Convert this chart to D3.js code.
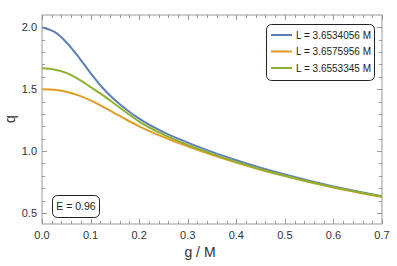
<!DOCTYPE html>
<html>
<head>
<meta charset="utf-8">
<script src="https://cdn.jsdelivr.net/npm/d3@7"></script>
<style>
body { margin: 0; background: #fff; }
svg { font-family: "Liberation Sans", Arial, sans-serif; }
</style>
</head>
<body>
<svg class="chart" width="397" height="266"></svg>
<script>
// data
var gValues = [0, 0.025, 0.05, 0.075, 0.1, 0.125, 0.15, 0.175, 0.2, 0.25, 0.3, 0.35, 0.4, 0.45, 0.5, 0.55, 0.6, 0.65, 0.7];
var qBlue   = [2.0, 1.965, 1.88, 1.762, 1.63, 1.51, 1.412, 1.332, 1.262, 1.153, 1.068, 0.993, 0.926, 0.865, 0.81, 0.76, 0.714, 0.673, 0.635];
var qOrange = [1.5, 1.496, 1.48, 1.45, 1.41, 1.36, 1.305, 1.251, 1.2, 1.113, 1.038, 0.969, 0.906, 0.849, 0.797, 0.749, 0.705, 0.665, 0.628];
var qGreen  = [1.67, 1.66, 1.632, 1.582, 1.518, 1.452, 1.38, 1.308, 1.238, 1.133, 1.05, 0.977, 0.912, 0.853, 0.8, 0.752, 0.708, 0.668, 0.632];

var seriesNames = ["L = 3.6534056 M", "L = 3.6575956 M", "L = 3.6553345 M"];
var seriesColors = ["#5E81B5", "#E19C24", "#8FB032"];
var seriesValues = [qBlue, qOrange, qGreen];

var xTicks = [0, 0.1, 0.2, 0.3, 0.4, 0.5, 0.6, 0.7];
var yTicks = [0.5, 1.0, 1.5, 2.0];

var svg = d3.select(".chart");
var plotLeft = 42, plotRight = 382, plotTop = 15, plotBottom = 224;

var x = d3.scaleLinear().domain([0, 0.7]).range([plotLeft, plotRight]);
var y = d3.scaleLinear().domain([0.41, 2.1]).range([plotBottom, plotTop]);

var frameColor = "#999";
var labelColor = "#333";

// frame
svg.append("rect")
    .attr("x", plotLeft).attr("y", plotTop)
    .attr("width", plotRight - plotLeft).attr("height", plotBottom - plotTop)
    .attr("fill", "none").attr("stroke", frameColor).attr("stroke-width", 1);

// ticks on all sides, inward
var xMinor = d3.range(0, 0.7001, 0.02);
var yMinor = d3.range(0.5, 2.1, 0.1);

function isMajor(v, step) { return Math.abs(v / step - Math.round(v / step)) < 1e-6; }

var tickG = svg.append("g").attr("stroke", frameColor).attr("stroke-width", 1);
xMinor.forEach(function(v) {
    var len = isMajor(v, 0.1) ? 5 : 3;
    var px = Math.round(x(v)) + 0.5;
    tickG.append("line").attr("x1", px).attr("x2", px).attr("y1", plotBottom).attr("y2", plotBottom - len);
    tickG.append("line").attr("x1", px).attr("x2", px).attr("y1", plotTop).attr("y2", plotTop + len);
});
yMinor.forEach(function(v) {
    var len = isMajor(v, 0.5) ? 5 : 3;
    var py = Math.round(y(v)) + 0.5;
    tickG.append("line").attr("x1", plotLeft).attr("x2", plotLeft + len).attr("y1", py).attr("y2", py);
    tickG.append("line").attr("x1", plotRight).attr("x2", plotRight - len).attr("y1", py).attr("y2", py);
});

// tick labels
svg.append("g").selectAll("text")
    .data(xTicks).enter().append("text")
    .attr("x", function(d) { return x(d); })
    .attr("y", 239)
    .attr("text-anchor", "middle")
    .attr("font-size", 11)
    .attr("fill", labelColor)
    .text(function(d) { return d3.format(".1f")(d); });

svg.append("g").selectAll("text")
    .data(yTicks).enter().append("text")
    .attr("x", 37)
    .attr("y", function(d) { return y(d) + 4; })
    .attr("text-anchor", "end")
    .attr("font-size", 11)
    .attr("fill", labelColor)
    .text(function(d) { return d3.format(".1f")(d); });

// axis titles
svg.append("text")
    .attr("x", 200).attr("y", 257)
    .attr("text-anchor", "middle")
    .attr("font-size", 14)
    .attr("fill", labelColor)
    .text("g / M");

svg.append("text")
    .attr("transform", "translate(15,119) rotate(-90)")
    .attr("text-anchor", "middle")
    .attr("font-size", 14)
    .attr("fill", labelColor)
    .text("q");

// curves
var line = d3.line()
    .x(function(d) { return x(d[0]); })
    .y(function(d) { return y(d[1]); })
    .curve(d3.curveMonotoneX);

svg.append("defs").append("clipPath").attr("id", "plot-clip")
    .append("rect").attr("x", plotLeft).attr("y", plotTop)
    .attr("width", plotRight - plotLeft).attr("height", plotBottom - plotTop);

svg.append("g").attr("clip-path", "url(#plot-clip)")
    .selectAll("path")
    .data(seriesValues).enter().append("path")
    .attr("d", function(vals) { return line(gValues.map(function(g, i) { return [g, vals[i]]; })); })
    .attr("fill", "none")
    .attr("stroke", function(d, i) { return seriesColors[i]; })
    .attr("stroke-width", 2);

// legend
var legend = svg.append("g");
legend.append("rect")
    .attr("x", 266.5).attr("y", 24.5)
    .attr("width", 108).attr("height", 56)
    .attr("rx", 5).attr("ry", 5)
    .attr("fill", "#fff").attr("stroke", "#222").attr("stroke-width", 1);

var rows = legend.selectAll("g.row")
    .data(seriesNames).enter().append("g")
    .attr("class", "row")
    .attr("transform", function(d, i) { return "translate(0," + (35 + i * 16.5) + ")"; });
rows.append("line")
    .attr("x1", 271).attr("x2", 292).attr("y1", 0).attr("y2", 0)
    .attr("stroke", function(d, i) { return seriesColors[i]; })
    .attr("stroke-width", 2);
rows.append("text")
    .attr("x", 296).attr("y", 3.5)
    .attr("font-size", 10)
    .attr("fill", "#222")
    .text(function(d) { return d; });

// energy box
svg.append("rect")
    .attr("x", 52.5).attr("y", 195.5)
    .attr("width", 47).attr("height", 22)
    .attr("rx", 5).attr("ry", 5)
    .attr("fill", "#fff").attr("stroke", "#222").attr("stroke-width", 1);
svg.append("text")
    .attr("x", 76).attr("y", 210)
    .attr("text-anchor", "middle")
    .attr("font-size", 10.5)
    .attr("fill", "#222")
    .text("E = 0.96");
</script>
</body>
</html>
